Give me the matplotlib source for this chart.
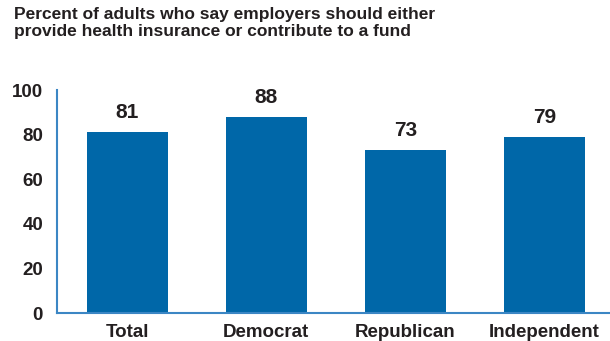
import matplotlib
matplotlib.use("Agg")
import matplotlib.pyplot as plt

plt.rcParams.update({
    "font.family": ["Liberation Sans", "DejaVu Sans"],
    "font.weight": "bold",
})

CATEGORIES = ["Total", "Democrat", "Republican", "Independent"]
VALUES = [81, 88, 73, 79]
Y_TICKS = [0, 20, 40, 60, 80, 100]

BAR_COLOR = "#0067a8"
AXIS_COLOR = "#3b86c4"
TEXT_COLOR = "#231f20"

fig = plt.figure(figsize=(6.10, 3.41), dpi=100)
ax = fig.add_axes([0.0934, 0.082, 0.9066, 0.654])

x = range(len(CATEGORIES))
ax.bar(x, VALUES, width=0.58, color=BAR_COLOR, zorder=2)
for xi, v in zip(x, VALUES):
    ax.text(xi, v + 4.5, str(v), ha="center", va="bottom",
            fontsize=15, fontweight="bold", color=TEXT_COLOR)

ax.set_xlim(-0.505, 3.47)
ax.set_ylim(0, 100)
ax.set_yticks(Y_TICKS)
ax.set_xticks(list(x))
ax.set_xticklabels(CATEGORIES)
ax.tick_params(axis="both", length=0, labelsize=13.5, colors=TEXT_COLOR)
ax.tick_params(axis="y", pad=10)
ax.tick_params(axis="x", pad=8)

for side in ("top", "right"):
    ax.spines[side].set_visible(False)
for side in ("left", "bottom"):
    ax.spines[side].set_color(AXIS_COLOR)
    ax.spines[side].set_linewidth(1.5)

fig.text(0.023, 0.98,
         "Percent of adults who say employers should either\n"
         "provide health insurance or contribute to a fund",
         ha="left", va="top", fontsize=12.5, fontweight="bold",
         color=TEXT_COLOR, linespacing=1.15)

fig.savefig("out.png", dpi=100)
